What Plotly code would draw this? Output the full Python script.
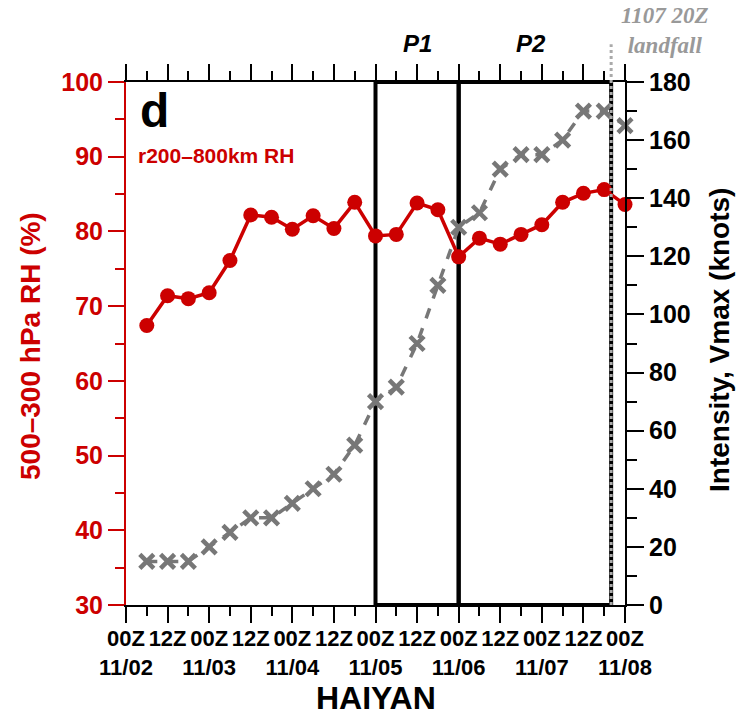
import plotly.graph_objects as go

# 6-hourly analysis times, hours since 11/02 00Z
hours = [6, 12, 18, 24, 30, 36, 42, 48, 54, 60, 66, 72, 78, 84, 90, 96,
         102, 108, 114, 120, 126, 132, 138, 144]

# area-mean 500-300 hPa relative humidity in the 200-800 km annulus (%)
rh = [67.4, 71.4, 71.0, 71.8, 76.1, 82.2, 81.9, 80.3, 82.1, 80.4, 83.9, 79.4,
      79.6, 83.8, 82.9, 76.6, 79.1, 78.3, 79.6, 80.9, 83.9, 85.1, 85.6, 83.6]

# best-track maximum sustained wind (knots)
vmax = [15, 15, 15, 20, 25, 30, 30, 35, 40, 45, 55, 70,
        75, 90, 110, 130, 135, 150, 155, 155, 160, 170, 170, 165]

# x-axis labels
tick_hours = [0, 12, 24, 36, 48, 60, 72, 84, 96, 108, 120, 132, 144]
tick_hour_labels = ["00Z", "12Z"] * 6 + ["00Z"]
dates = ["11/02", "11/03", "11/04", "11/05", "11/06", "11/07", "11/08"]

# analysis periods and landfall time (hours)
p1 = (72, 96)
p2 = (96, 140)
landfall = 140

RED = "#cc0000"
GRAY = "#777777"
SANS = "Liberation Sans, Arial, sans-serif"
SERIF = "Liberation Serif, Times New Roman, serif"

ticktext = []
for i, lab in enumerate(tick_hour_labels):
    if lab == "00Z":
        ticktext.append("<b>00Z<br>%s</b>" % dates[i // 2])
    else:
        ticktext.append("<b>12Z</b>")

fig = go.Figure()

fig.add_trace(go.Scatter(
    x=hours, y=vmax, yaxis="y2", mode="lines+markers",
    line=dict(color=GRAY, width=3.5, dash="dash"),
    marker=dict(symbol="x-thin", size=14, line=dict(color=GRAY, width=4.5)),
    showlegend=False, cliponaxis=False,
))
fig.add_trace(go.Scatter(
    x=hours, y=rh, mode="lines+markers",
    line=dict(color=RED, width=3.5),
    marker=dict(symbol="circle", size=15, color=RED),
    showlegend=False, cliponaxis=False,
))

shapes = []
# period boxes
for x0, x1 in (p1, p2):
    shapes.append(dict(type="rect", xref="x", yref="paper", x0=x0, x1=x1, y0=0, y1=1,
                       line=dict(color="black", width=4), layer="below"))
# landfall marker
shapes.append(dict(type="line", xref="x", yref="paper", x0=landfall, x1=landfall,
                   y0=0, y1=1.072, line=dict(color="#aaaaaa", width=3, dash="dot"),
                   layer="above"))
fig.update_layout(shapes=shapes)

W, H = 744, 720
L, R, T, B = 126, 119, 82, 115
pw, ph = W - L - R, H - T - B


def px(x, y):
    """Convert window pixel coordinates to paper coordinates."""
    return (x - L) / pw, (H - B - y) / ph


annotations = []


def label(text, x, y, size, color="black", family=SANS, angle=0, xanchor="center"):
    xp, yp = px(x, y)
    annotations.append(dict(text=text, x=xp, y=yp, xref="paper", yref="paper",
                            xanchor=xanchor, yanchor="middle", showarrow=False,
                            textangle=angle,
                            font=dict(family=family, size=size, color=color)))


label("<b>d</b>", 138, 111, 48, xanchor="left")
label("<b>r200–800km RH</b>", 136, 155, 21, color=RED, xanchor="left")
label("<b><i>P1</i></b>", 417, 44, 24)
label("<b><i>P2</i></b>", 531, 44, 24)
label("<b><i>1107 20Z<br>landfall</i></b>", 665, 30, 23, color="#999999", family=SERIF)
label("<b>500–300 hPa RH (%)</b>", 30, 346, 28, color=RED, angle=-90)
label("<b>Intensity, Vmax (knots)</b>", 719, 340, 28, angle=-90)
label("<b>HAIYAN</b>", 376, 698, 32)
fig.update_layout(annotations=annotations)

fig.update_layout(
    width=W, height=H,
    margin=dict(l=L, r=R, t=T, b=B),
    paper_bgcolor="white", plot_bgcolor="white",
    font=dict(family=SANS, color="black"),
    xaxis=dict(
        range=[0, 144], tickmode="array", tickvals=tick_hours, ticktext=ticktext,
        tickangle=0, ticks="outside", ticklen=16, tickwidth=2, tickcolor="black",
        ticklabelstandoff=-3,
        showline=True, linecolor="black", linewidth=2, mirror="ticks",
        showgrid=False, zeroline=False,
        tickfont=dict(family=SANS, size=22, color="black"),
        minor=dict(dtick=6, tick0=0, ticks="outside", ticklen=9, tickwidth=2,
                   tickcolor="black", showgrid=False),
    ),
    yaxis=dict(
        range=[30, 100], dtick=10, ticks="outside", ticklen=16, tickwidth=2,
        tickcolor=RED, showline=True, linecolor=RED, linewidth=2,
        showgrid=False, zeroline=False,
        tickfont=dict(family=SANS, size=25, color=RED), tickprefix="<b>", ticksuffix="</b>",
        minor=dict(dtick=5, ticks="outside", ticklen=9, tickwidth=2,
                   tickcolor=RED, showgrid=False),
    ),
    yaxis2=dict(
        range=[0, 180], dtick=20, overlaying="y", side="right",
        ticks="outside", ticklen=17, tickwidth=2, tickcolor="black",
        showline=True, linecolor="black", linewidth=2,
        showgrid=False, zeroline=False,
        tickfont=dict(family=SANS, size=25, color="black"), tickprefix="<b>", ticksuffix="</b>",
        minor=dict(dtick=10, ticks="outside", ticklen=10, tickwidth=2,
                   tickcolor="black", showgrid=False),
    ),
)

fig.write_html("out.html")
